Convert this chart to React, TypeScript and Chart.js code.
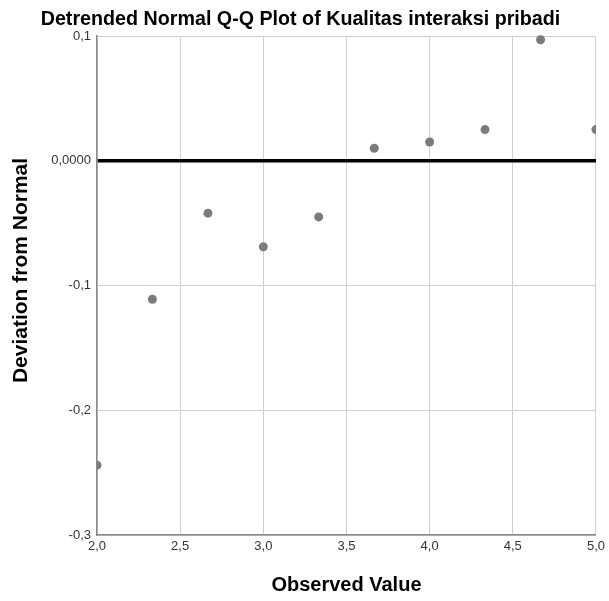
import React, { useEffect, useRef } from "react";
import { Chart, registerables } from "chart.js";

Chart.register(...registerables);

const chartTitle = "Detrended Normal Q-Q Plot of Kualitas interaksi pribadi";
const xAxisTitle = "Observed Value";
const yAxisTitle = "Deviation from Normal";

const observedValues = [2.0, 2.333, 2.667, 3.0, 3.333, 3.667, 4.0, 4.333, 4.667, 5.0];
const deviations = [-0.244, -0.111, -0.042, -0.069, -0.045, 0.01, 0.015, 0.025, 0.097, 0.025];

const xMin = 2;
const xMax = 5;
const xStep = 0.5;
const yMin = -0.3;
const yMax = 0.1;
const yStep = 0.1;

const FONT = "'Liberation Sans', Arial, sans-serif";

const yTitlePlugin = {
  id: "yTitlePlugin",
  afterDraw(chart: any) {
    const ctx = chart.ctx;
    const area = chart.chartArea;
    ctx.save();
    ctx.translate(21, (area.top + area.bottom) / 2 - 15);
    ctx.rotate(-Math.PI / 2);
    ctx.font = `bold 21px ${FONT}`;
    ctx.fillStyle = "#000";
    ctx.textAlign = "center";
    ctx.textBaseline = "middle";
    ctx.fillText(yAxisTitle, 0, 0);
    ctx.restore();
  },
};

export default function App() {
  const canvasRef = useRef<HTMLCanvasElement | null>(null);

  useEffect(() => {
    if (!canvasRef.current) return;
    const points = observedValues.map((x, i) => ({ x, y: deviations[i] }));
    const chart = new Chart(canvasRef.current, {
      type: "scatter",
      data: {
        datasets: [
          {
            data: points,
            pointRadius: 4.5,
            pointHoverRadius: 4.5,
            pointBackgroundColor: "#7b7b7b",
            pointBorderWidth: 0,
            borderWidth: 0,
            clip: { left: 0, right: 0, top: 8, bottom: 0 } as any,
          },
        ],
      },
      plugins: [yTitlePlugin],
      options: {
        animation: false,
        responsive: false,
        devicePixelRatio: 1,
        layout: { padding: { left: 4, right: 12, top: 0, bottom: 0 } },
        plugins: {
          legend: { display: false },
          tooltip: { enabled: false },
          title: {
            display: true,
            text: chartTitle,
            color: "#000",
            font: { family: FONT, size: 19.7, weight: "bold", lineHeight: 1.2 },
            padding: { top: 8, bottom: 4.36 },
          },
        },
        scales: {
          x: {
            type: "linear",
            min: xMin,
            max: xMax,
            afterFit: (scale: any) => {
              scale.height = 66;
            },
            ticks: {
              stepSize: xStep,
              autoSkip: false,
              maxRotation: 0,
              padding: 4,
              color: "#333",
              font: { family: FONT, size: 13 },
              callback: (v: any) => Number(v).toFixed(1).replace(".", ","),
            },
            grid: {
              drawTicks: false,
              z: -2,
              color: "#d0d0d0",
              lineWidth: 1,
            },
            border: { display: true, color: "#8a8a8a", width: 1.5 },
            title: {
              display: true,
              text: xAxisTitle,
              color: "#000",
              font: { family: FONT, size: 20, weight: "bold", lineHeight: 1.2 },
              padding: { top: 0, bottom: 4 },
            },
          },
          y: {
            type: "linear",
            min: yMin,
            max: yMax,
            afterFit: (scale: any) => {
              scale.width = 93;
            },
            ticks: {
              stepSize: yStep,
              autoSkip: false,
              padding: 6,
              color: "#333",
              font: { family: FONT, size: 13 },
              callback: (v: any) =>
                Math.abs(Number(v)) < 1e-9 ? "0,0000" : Number(v).toFixed(1).replace(".", ","),
            },
            grid: {
              drawTicks: false,
              z: -1,
              color: (ctx: any) => (ctx.tick && Math.abs(ctx.tick.value) < 1e-9 ? "#000" : "#d0d0d0"),
              lineWidth: (ctx: any) => (ctx.tick && Math.abs(ctx.tick.value) < 1e-9 ? 3.5 : 1),
            },
            border: { display: true, color: "#8a8a8a", width: 1.5 },
            title: { display: false },
          },
        },
      },
    });
    return () => chart.destroy();
  }, []);

  return (
    <div style={{ position: "absolute", left: 0, top: 0, width: 609, height: 601, background: "#fff" }}>
      <canvas ref={canvasRef} width={609} height={601} style={{ display: "block", width: 609, height: 601 }} />
    </div>
  );
}
